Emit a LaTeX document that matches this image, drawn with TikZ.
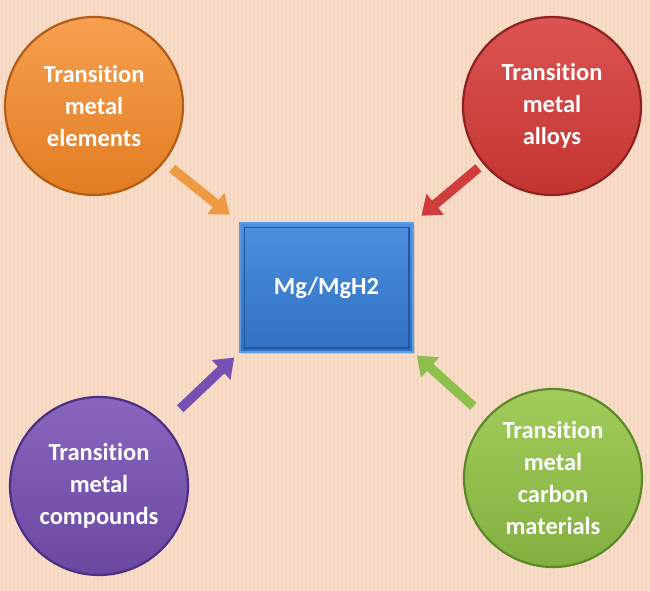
\documentclass[tikz,border=0pt]{standalone}
\usepackage{fontspec}
\setmainfont{Carlito}[Ligatures={NoCommon}]
\usetikzlibrary{arrows.meta,shadows}
\definecolor{bg}{HTML}{FADFCB}
\definecolor{stripe}{HTML}{F4D4BF}
\definecolor{oTop}{HTML}{F6A050}
\definecolor{oBot}{HTML}{E27C22}
\definecolor{oRim}{HTML}{B25C16}
\definecolor{rTop}{HTML}{DC5452}
\definecolor{rBot}{HTML}{C23432}
\definecolor{rRim}{HTML}{8E2220}
\definecolor{pTop}{HTML}{8866C0}
\definecolor{pBot}{HTML}{6A48A2}
\definecolor{pRim}{HTML}{4C3080}
\definecolor{gTop}{HTML}{A2CC5C}
\definecolor{gBot}{HTML}{82B040}
\definecolor{gRim}{HTML}{5C8828}
\definecolor{bTop}{HTML}{4C90DE}
\definecolor{bBot}{HTML}{3070C2}
\definecolor{bRim}{HTML}{2756A0}
\definecolor{bEdge}{HTML}{5A9CE6}
\definecolor{aO}{HTML}{EE9A42}
\definecolor{aR}{HTML}{CF3E3C}
\definecolor{aP}{HTML}{7552B2}
\definecolor{aG}{HTML}{8CC04A}
\begin{document}
\begin{tikzpicture}[x=1pt,y=-1pt,
  bubble/.style={circle, minimum size=178pt, inner sep=0pt, line width=2.2pt,
    align=center, text=white, font=\bfseries\fontsize{24.5}{32}\selectfont},
  centerbox/.style={rectangle, minimum width=173pt, minimum height=129pt,
    draw=bEdge, line width=1.5pt, top color=bTop, bottom color=bBot,
    text=white, font=\bfseries\fontsize{24.5}{30}\selectfont,
    drop shadow={opacity=0.25, shadow xshift=1.5pt, shadow yshift=-1.5pt}},
  innerframe/.style={draw=bRim, line width=1.5pt},
  conn/.style={line width=9.5pt, -{Triangle[width=26pt,length=18pt]}},
  stripeline/.style={draw=stripe, line width=1.2pt}]
\fill[bg] (0,0) rectangle (651,591);
\useasboundingbox (0,0) rectangle (651,591);
\foreach \x in {2,6,...,650} \draw[stripeline] (\x,0) -- (\x,591);

\node[bubble, top color=oTop, bottom color=oBot, draw=oRim] (elem) at (94,106) {Transition\\metal\\elements};
\node[bubble, top color=rTop, bottom color=rBot, draw=rRim] (alloy) at (552,106) {Transition\\metal\\alloys};
\node[bubble, top color=pTop, bottom color=pBot, draw=pRim] (comp) at (99,486) {Transition\\metal\\compounds};
\node[bubble, top color=gTop, bottom color=gBot, draw=gRim] (carb) at (553,478) {Transition\\metal\\carbon\\materials};

\node[centerbox] (mg) at (326.5,287.5) {Mg/MgH2};
\draw[innerframe] ([shift={(5,5)}]mg.north west) rectangle ([shift={(-5,-5)}]mg.south east);

\draw[conn, draw=aO, shorten <=10pt, shorten >=12pt] (elem) -- (mg.north west);
\draw[conn, draw=aR, shorten <=6pt, shorten >=10pt] (alloy) -- (mg.north east);
\draw[conn, draw=aP, shorten <=22pt, shorten >=7pt] (comp) -- (mg.south west);
\draw[conn, draw=aG, shorten <=17pt, shorten >=4pt] (carb) -- (mg.south east);
\end{tikzpicture}
\end{document}
